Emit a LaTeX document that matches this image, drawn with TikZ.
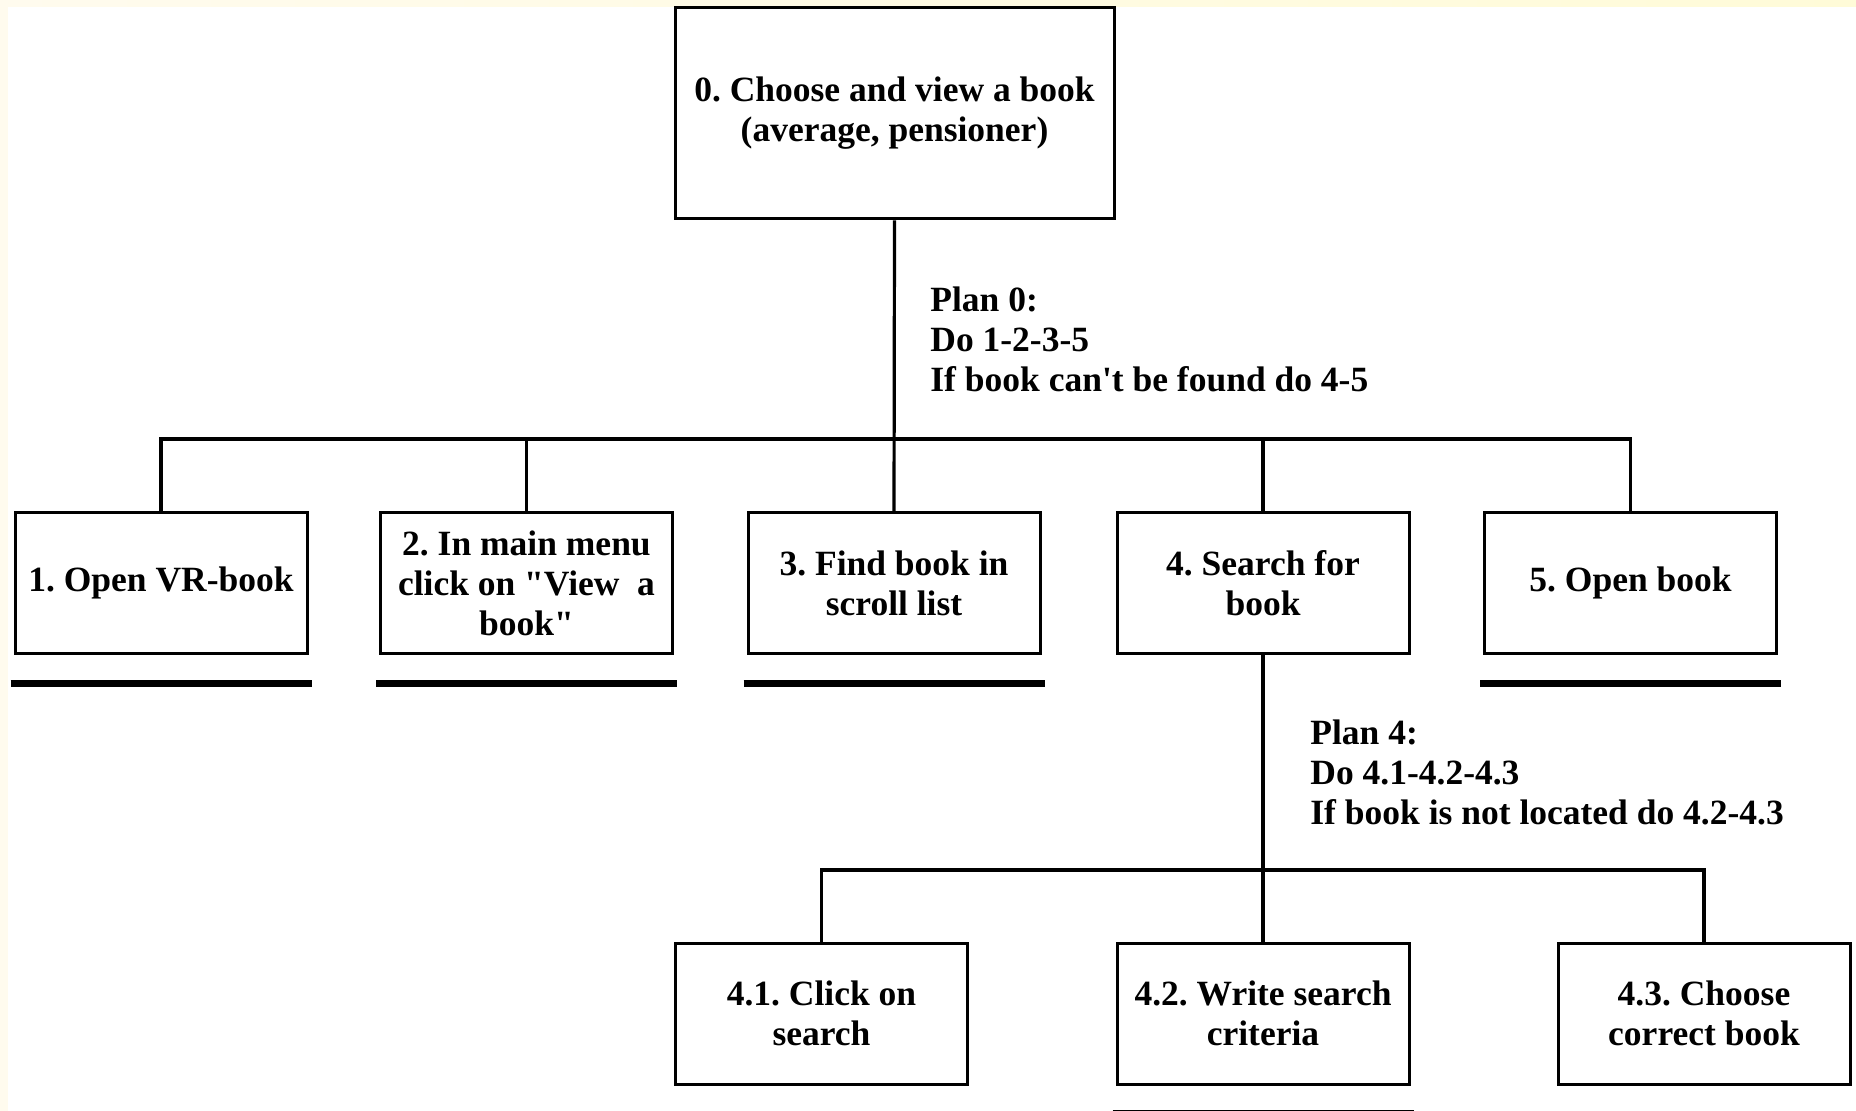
\documentclass[tikz,border=0pt]{standalone}
\usepackage{fontspec}
\newfontfamily\taskfont{Liberation Serif}
\frenchspacing

\definecolor{paperl}{HTML}{FFFBEE}
\definecolor{paperr}{HTML}{FFFBD8}

\tikzset{
  task/.style={draw, line width=1.5pt, fill=white, inner sep=0pt, align=center,
    minimum width=146pt, minimum height=70pt,
    font=\taskfont\bfseries\fontsize{17.75}{20}\selectfont},
  plan/.style={anchor=north west, inner sep=0pt, align=left,
    font=\taskfont\bfseries\fontsize{17.75}{20}\selectfont},
  link/.style={line width=1.6pt},
  endline/.style={line width=3.5pt},
  cutline/.style={gray, line width=0.6pt}
}

\begin{document}
\begin{tikzpicture}[x=0.5pt,y=-0.5pt]
\useasboundingbox (0,0) rectangle (1856,1111);
% paper
\shade[left color=paperl, right color=paperr] (0,0) rectangle (1856,1111);
\fill[white] (8,7) rectangle (1856,1111);

% top task
\node[task, minimum width=219.5pt, minimum height=105.5pt] (t0) at (894.5,113.5)
  {0. Choose and view a book\\(average, pensioner)};

% level 1
\node[task] (t1) at (161,583) {1. Open VR-book};
\node[task] (t2) at (526.5,583) {2. In main menu\\click on "View~~a\\book"};
\node[task] (t3) at (894,583) {3. Find book in\\scroll list};
\node[task] (t4) at (1263,583) {4. Search for\\book};
\node[task] (t5) at (1630.5,583) {5. Open book};

% level 2
\node[task, minimum height=70.5pt] (t41) at (821.5,1013.5) {4.1. Click on\\search};
\node[task, minimum height=70.5pt] (t42) at (1263,1013.5) {4.2. Write search\\criteria};
\node[task, minimum height=70.5pt] (t43) at (1704,1013.5) {4.3. Choose\\correct book};

% plans
\node[plan] (plan0) at (930,286) {Plan 0:\\Do 1-2-3-5\\If book can't be found do 4-5};
\node[plan] (plan4) at (1310,719) {Plan 4:\\Do 4.1-4.2-4.3\\If book is not located do 4.2-4.3};

% connectors
\coordinate (bus0) at (894,439);
\coordinate (bus4) at (1263,870);
\draw[link] (t0.south) -- (t3.north);
\draw[link] (t1.north) -- (t1.north |- bus0) -- (t5.north |- bus0) -- (t5.north);
\foreach \n in {t2,t4} {
\draw[link] (\n.north) -- (\n.north |- bus0);
}
\draw[link] (t4.south) -- (t42.north);
\draw[link] (t41.north) -- (t41.north |- bus4) -- (t43.north |- bus4) -- (t43.north);

% end of branch
\foreach \n in {t1,t2,t3,t5} {
\draw[endline] ([xshift=-1.5pt,yshift=-14.5pt]\n.south west) -- ([xshift=1.5pt,yshift=-14.5pt]\n.south east);
}
\draw[endline] ([xshift=-1.5pt,yshift=-13.8pt]t42.south west) -- ([xshift=1.5pt,yshift=-13.8pt]t42.south east);
\foreach \n in {t41,t43} {
\draw[cutline] ([xshift=0.5pt,yshift=-13pt]\n.south west) -- ([xshift=2pt,yshift=-13pt]\n.south east);
}
\end{tikzpicture}
\end{document}
